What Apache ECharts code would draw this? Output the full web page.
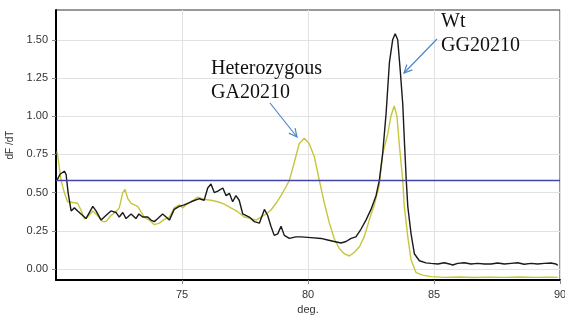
<!DOCTYPE html>
<html><head><meta charset="utf-8">
<script src="https://cdn.jsdelivr.net/npm/echarts@6/dist/echarts.min.js"></script>
<style>html,body{margin:0;padding:0;background:#fff}#c{width:565px;height:315px}</style>
</head><body><div id="c"></div>
<script>
// Wild type (black) derivative melt curve
const wtTemp = [70.04,70.16,70.33,70.40,70.48,70.60,70.73,70.86,71.06,71.19,71.46,71.59,71.79,71.98,72.18,72.38,72.51,72.65,72.78,72.98,73.17,73.29,73.44,73.64,73.77,73.90,74.04,74.23,74.37,74.50,74.69,74.89,75.09,75.36,75.69,75.88,76.02,76.15,76.28,76.42,76.62,76.75,76.88,77.01,77.14,77.27,77.41,77.67,77.87,78.07,78.27,78.40,78.53,78.66,78.80,78.93,79.06,79.26,79.52,79.72,80.12,80.52,80.78,81.04,81.31,81.51,81.71,81.90,82.10,82.30,82.50,82.70,82.83,82.96,83.10,83.23,83.36,83.46,83.56,83.66,83.76,83.83,83.90,83.96,84.09,84.22,84.42,84.68,84.88,85.15,85.41,85.61,85.74,85.94,86.20,86.47,86.73,87.00,87.26,87.53,87.79,88.06,88.32,88.58,88.85,89.11,89.38,89.64,89.84,89.91];
const wtDfdt = [0.58,0.62,0.64,0.62,0.50,0.38,0.40,0.38,0.35,0.33,0.41,0.38,0.32,0.35,0.38,0.37,0.34,0.37,0.33,0.36,0.33,0.36,0.34,0.34,0.32,0.31,0.33,0.36,0.34,0.32,0.39,0.41,0.42,0.44,0.46,0.45,0.53,0.556,0.50,0.51,0.53,0.48,0.495,0.44,0.48,0.45,0.36,0.34,0.31,0.30,0.39,0.35,0.28,0.22,0.23,0.28,0.22,0.20,0.21,0.21,0.205,0.20,0.19,0.18,0.17,0.18,0.20,0.21,0.26,0.32,0.39,0.48,0.58,0.75,1.02,1.35,1.50,1.54,1.50,1.30,1.08,0.82,0.58,0.41,0.23,0.10,0.054,0.04,0.037,0.033,0.041,0.033,0.026,0.037,0.041,0.033,0.037,0.033,0.033,0.039,0.033,0.037,0.041,0.031,0.037,0.033,0.037,0.039,0.033,0.024];
// Heterozygous (yellow) derivative melt curve
const hetTemp = [70.04,70.12,70.20,70.33,70.46,70.66,70.86,70.99,71.12,71.25,71.46,71.65,71.85,71.98,72.18,72.38,72.51,72.65,72.74,72.85,72.98,73.11,73.24,73.37,73.50,73.70,73.90,74.10,74.30,74.50,74.69,74.89,75.03,75.16,75.36,75.62,75.88,76.15,76.42,76.68,76.94,77.21,77.47,77.74,77.94,78.13,78.33,78.53,78.73,78.93,79.13,79.26,79.46,79.65,79.85,80.05,80.25,80.45,80.65,80.85,81.04,81.24,81.44,81.64,81.84,82.04,82.23,82.43,82.63,82.83,82.96,83.16,83.29,83.42,83.53,83.62,83.76,83.82,83.96,84.09,84.29,84.55,84.88,85.40,86.00,86.60,87.20,87.80,88.40,89.00,89.60,89.91];
const hetDfdt = [0.77,0.68,0.58,0.50,0.44,0.435,0.43,0.386,0.33,0.34,0.38,0.35,0.31,0.31,0.35,0.375,0.40,0.50,0.52,0.46,0.43,0.42,0.41,0.375,0.34,0.32,0.29,0.30,0.325,0.34,0.40,0.42,0.40,0.42,0.44,0.47,0.456,0.45,0.44,0.425,0.40,0.375,0.34,0.33,0.32,0.34,0.36,0.386,0.43,0.48,0.54,0.58,0.70,0.82,0.855,0.82,0.735,0.58,0.43,0.30,0.20,0.134,0.10,0.085,0.11,0.146,0.21,0.32,0.42,0.55,0.75,0.88,1.0,1.067,1.0,0.82,0.58,0.41,0.21,0.06,-0.024,-0.04,-0.05,-0.055,-0.052,-0.056,-0.053,-0.055,-0.052,-0.055,-0.053,-0.055];
const thresholdValue = 0.582;
const yTicks = [0, 0.25, 0.5, 0.75, 1.0, 1.25, 1.5];
const xTicks = [75, 80, 85, 90];

const pair = (xs, ys) => xs.map((x, i) => [x, ys[i]]);
const chart = echarts.init(document.getElementById('c'), null, {renderer: 'canvas'});
const labelFont = {fontFamily: 'Liberation Sans, Arial, sans-serif', fontSize: 11, color: '#333'};
const serif = 'Liberation Serif, Times New Roman, serif';

function arrow(x1, y1, x2, y2, color) {
  const ang = Math.atan2(y2 - y1, x2 - x1), L = 9, w = 0.45;
  return [
    {type: 'line', shape: {x1, y1, x2, y2}, style: {stroke: color, lineWidth: 1.2}, z: 100},
    {type: 'polyline', shape: {points: [
      [x2 - L * Math.cos(ang - w), y2 - L * Math.sin(ang - w)], [x2, y2],
      [x2 - L * Math.cos(ang + w), y2 - L * Math.sin(ang + w)]]},
      style: {stroke: color, lineWidth: 1.2, fill: null}, z: 100}
  ];
}

chart.setOption({
  animation: false,
  grid: {left: 56, top: 10, right: 5, bottom: 35, show: true, borderColor: '#333', borderWidth: 1,
    containLabel: false, outerBoundsMode: 'none'},
  xAxis: {
    type: 'value', min: 70, max: 90, interval: 5,
    name: 'deg.', nameLocation: 'middle', nameGap: 22,
    nameTextStyle: labelFont,
    axisLine: {onZero: false, lineStyle: {color: '#000', width: 2}},
    axisTick: {show: true, length: 4, customValues: xTicks, lineStyle: {color: '#888'}},
    axisLabel: Object.assign({margin: 9, customValues: xTicks, formatter: v => String(v)}, labelFont),
    splitLine: {show: true, lineStyle: {color: '#e2e2e2', width: 1}}
  },
  yAxis: {
    type: 'value', min: -0.072, max: 1.695,
    name: 'dF /dT', nameLocation: 'middle', nameGap: 30,
    nameTextStyle: Object.assign({}, labelFont, {fontSize: 10}),
    axisLine: {onZero: false, show: true, lineStyle: {color: '#000', width: 2}},
    axisTick: {show: true, length: 4, customValues: yTicks, lineStyle: {color: '#888'}},
    axisLabel: Object.assign({margin: 8, customValues: yTicks, formatter: v => v.toFixed(2)}, labelFont),
    splitLine: {show: true, lineStyle: {color: '#e2e2e2', width: 1}}
  },
  series: [
    {type: 'line', name: 'Het', data: pair(hetTemp, hetDfdt), showSymbol: false, symbol: 'none',
      lineStyle: {color: '#c6c63c', width: 1.4}, z: 3},
    {type: 'line', name: 'Wt', data: pair(wtTemp, wtDfdt), showSymbol: false, symbol: 'none',
      lineStyle: {color: '#1a1a1a', width: 1.4}, z: 4,
      markLine: {silent: true, symbol: 'none', label: {show: false},
        lineStyle: {color: '#4444a8', width: 1.3, type: 'solid'},
        data: [{yAxis: thresholdValue}]}}
  ],
  graphic: [
    {type: 'text', left: 211, top: 57, z: 100, style: {text: 'Heterozygous\nGA20210', font: '20px ' + serif, lineHeight: 24, fill: '#111'}},
    {type: 'text', left: 441, top: 10, z: 100, style: {text: 'Wt\nGG20210', font: '20px ' + serif, lineHeight: 24, fill: '#111'}},
    ...arrow(270, 103, 297, 137, '#4a86c8'),
    ...arrow(437, 39, 404, 73, '#4a86c8')
  ]
});
</script></body></html>
